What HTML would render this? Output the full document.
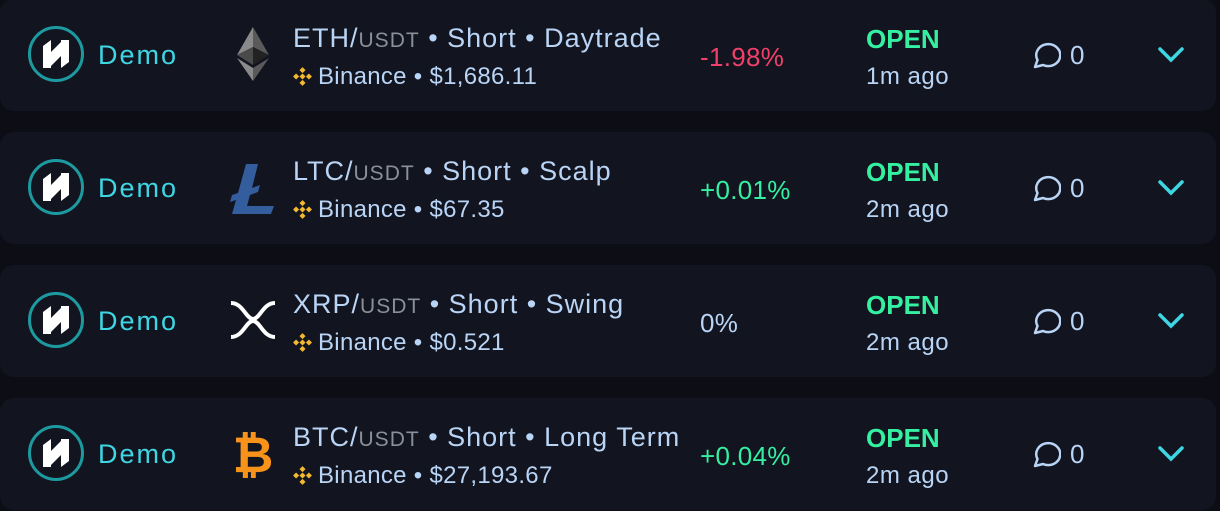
<!DOCTYPE html>
<html><head><meta charset="utf-8"><style>
*{margin:0;padding:0;box-sizing:border-box}
body{width:1220px;height:511px;background:#0d0e15;font-family:"Liberation Sans",sans-serif;overflow:hidden;position:relative}
.card{position:absolute;left:0;width:1216px;height:112px;background:#121520;border-radius:14px}
.logo{position:absolute;left:28px;top:27px;width:56px;height:56px;border:3px solid #1d9aa0;border-radius:50%}
.logo svg{position:absolute;left:10px;top:9px}
.demo{position:absolute;left:98px;top:41px;font-size:27px;color:#3fd6e4;letter-spacing:2px}
.coin{position:absolute;left:228px;top:26px;width:50px;height:58px}
.title{position:absolute;left:293px;top:24px;font-size:27px;color:#b9d4f5;white-space:nowrap;letter-spacing:1px}
.title .q{color:#8a8f99;font-size:21px}
.sub{position:absolute;left:293px;top:64px;font-size:24px;color:#b9d4f5;white-space:nowrap;letter-spacing:0.3px}
.bn{display:inline-block;width:19px;height:19px;position:relative;top:2px;margin-right:6px}
.pct{position:absolute;left:700px;top:43px;font-size:26px;letter-spacing:0.3px}
.open{position:absolute;left:866px;top:25px;font-size:26px;color:#34f0a0;font-weight:bold}
.ago{position:absolute;left:866px;top:64px;font-size:24px;color:#b9d4f5;letter-spacing:0.5px}
.cmt{position:absolute;left:1031px;top:41px;font-size:26px;color:#b9d4f5}
.cmt svg{vertical-align:-5px;margin-right:9px}
.chev{position:absolute;left:1157px;top:47px}
</style></head><body>
<script>
const rows=[
 ["ETH","Short","Daytrade","$1,686.11","-1.98%","#f0406a","1m ago","eth"],
 ["LTC","Short","Scalp","$67.35","+0.01%","#34f0a0","2m ago","ltc"],
 ["XRP","Short","Swing","$0.521","0%","#b9d4f5","2m ago","xrp"],
 ["BTC","Short","Long Term","$27,193.67","+0.04%","#34f0a0","2m ago","btc"]];
const icons={
eth:'<svg width="50" height="58" viewBox="0 0 50 58"><polygon points="25,2 9,30 25,22" fill="#8a8a8a"/><polygon points="25,2 41,30 25,22" fill="#5a5a5a"/><polygon points="9,30 25,40 25,22" fill="#4a4a4a"/><polygon points="41,30 25,40 25,22" fill="#222"/><polygon points="9,33 25,56 25,43" fill="#8a8a8a"/><polygon points="41,33 25,56 25,43" fill="#5a5a5a"/></svg>',
ltc:'<svg width="50" height="58" viewBox="0 0 50 58"><path d="M18,6 H30 L24,30 L32,27 L30,34 L22,37 L19,48 H46 L43,56 H4 L8,42 L2,44 L4,37 L10,35 Z" fill="#345d9d"/></svg>',
xrp:'<svg width="50" height="58" viewBox="0 0 50 58"><path d="M3,12 C15,12 18,28 25,28 C32,28 35,12 47,12" stroke="#fff" stroke-width="4" fill="none"/><path d="M3,46 C15,46 18,30 25,30 C32,30 35,46 47,46" stroke="#fff" stroke-width="4" fill="none"/></svg>',
btc:'<svg width="50" height="58" viewBox="0 0 50 58"><text x="25" y="48" text-anchor="middle" font-family="Liberation Sans" font-weight="bold" font-size="50" fill="#f7931a">₿</text></svg>'};
rows.forEach((r,i)=>{
 const c=document.createElement('div');
 c.className='card';c.style.top=(i*133-1)+'px';
 
 
 c.innerHTML=`<div class="logo"><svg width="30" height="32" viewBox="0 0 30 32"><path d="M2,8 L10,2 V14 L20,4 V2 H28 V24 L20,30 V18 L10,28 V30 H2 Z" fill="#fff"/></svg></div>
<div class="demo">Demo</div>
<div class="coin">${icons[r[7]]}</div>
<div class="title">${r[0]}/<span class="q">USDT</span> • ${r[1]} • ${r[2]}</div>
<div class="sub"><svg class="bn" viewBox="0 0 16 16"><g fill="#f3ba2f"><rect x="6.2" y="0.8" width="3.6" height="3.6" transform="rotate(45 8 2.6)"/><rect x="6.2" y="11.6" width="3.6" height="3.6" transform="rotate(45 8 13.4)"/><rect x="0.8" y="6.2" width="3.6" height="3.6" transform="rotate(45 2.6 8)"/><rect x="11.6" y="6.2" width="3.6" height="3.6" transform="rotate(45 13.4 8)"/><rect x="6.2" y="6.2" width="3.6" height="3.6" transform="rotate(45 8 8)"/></g></svg>Binance • ${r[3]}</div>
<div class="pct" style="color:${r[5]}">${r[4]}</div>
<div class="open">OPEN</div>
<div class="ago">${r[6]}</div>
<div class="cmt"><svg width="30" height="28" viewBox="0 0 30 28"><path d="M4,26 L6.5,19 A12,11 0 1 1 12,24 Z" fill="none" stroke="#b9d4f5" stroke-width="2.5" stroke-linejoin="round"/></svg>0</div>
<div class="chev"><svg width="28" height="18" viewBox="0 0 28 18"><path d="M3,3 L14,14 L25,3" fill="none" stroke="#3fd6e4" stroke-width="3.5" stroke-linecap="round"/></svg></div>`;
 document.body.appendChild(c);
});
</script>
</body></html>
